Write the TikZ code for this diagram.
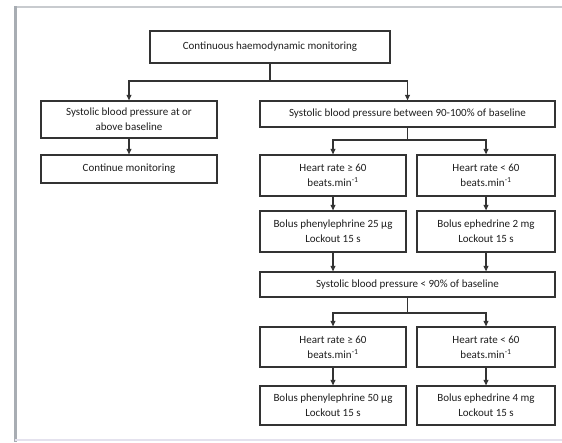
\documentclass[tikz,border=0pt]{standalone}
\usepackage{fontspec}
\setmainfont{Carlito}
\usetikzlibrary{arrows.meta}
\definecolor{boxline}{HTML}{333333}
\definecolor{txt}{HTML}{1E1E1E}
\definecolor{framel}{HTML}{A8ADB3}
\definecolor{framet}{HTML}{C8CBCF}
\definecolor{frameb}{HTML}{E4E2EE}
\begin{document}
\begin{tikzpicture}[x=1pt,y=-1pt,
  fbox/.style={draw=boxline, line width=1.3pt, fill=white, text=txt,
    inner sep=0pt, align=center, font=\fontsize{11}{15}\selectfont},
  arr/.style={draw=boxline, line width=1.1pt, -{Triangle[length=5.5pt,width=5pt]}},
  ln/.style={draw=boxline, line width=1.1pt}
]
\useasboundingbox (0,0) rectangle (562,442);
\fill[white] (0,0) rectangle (562,442);
% frame
\draw[framet, line width=2pt] (15,7) -- (562,7);
\draw[framel, line width=3pt] (15,6) -- (15,442);
\draw[frameb, line width=2pt] (15,440) -- (562,440);

\node[fbox, minimum width=240pt, minimum height=32pt] (top) at (270,47) {Continuous haemodynamic monitoring};
\node[fbox, minimum width=176pt, minimum height=37pt] (sbpa) at (129,119.5) {Systolic blood pressure at or\\above baseline};
\node[fbox, minimum width=176pt, minimum height=28pt] (cont) at (129,169) {Continue monitoring};
\node[fbox, minimum width=295pt, minimum height=26pt] (sbpb) at (407.5,114) {Systolic blood pressure between 90-100\% of baseline};
\node[fbox, minimum width=146pt, minimum height=41pt] (hra) at (333,175.5) {Heart rate ≥ 60\\beats.min\textsuperscript{-1}};
\node[fbox, minimum width=138pt, minimum height=41pt] (hrb) at (486,175.5) {Heart rate < 60\\beats.min\textsuperscript{-1}};
\node[fbox, minimum width=146pt, minimum height=41pt] (bola) at (333,231.5) {Bolus phenylephrine 25 µg\\Lockout 15 s};
\node[fbox, minimum width=138pt, minimum height=41pt] (bolb) at (486,231.5) {Bolus ephedrine 2 mg\\Lockout 15 s};
\node[fbox, minimum width=295pt, minimum height=25pt] (sbpc) at (407.5,284.5) {Systolic blood pressure < 90\% of baseline};
\node[fbox, minimum width=146pt, minimum height=40pt] (hrc) at (333,347) {Heart rate ≥ 60\\beats.min\textsuperscript{-1}};
\node[fbox, minimum width=138pt, minimum height=40pt] (hrd) at (486,347) {Heart rate < 60\\beats.min\textsuperscript{-1}};
\node[fbox, minimum width=146pt, minimum height=39pt] (bolc) at (333,405.5) {Bolus phenylephrine 50 µg\\Lockout 15 s};
\node[fbox, minimum width=138pt, minimum height=39pt] (bold) at (486,405.5) {Bolus ephedrine 4 mg\\Lockout 15 s};

\coordinate (j1) at (270,81);
\coordinate (j2) at (407.5,140);
\coordinate (j3) at (407.5,313);

\draw[ln] (top.south) -- (j1);
\draw[arr] (j1) -| (sbpa.north);
\draw[arr] (j1) -| (sbpb.north);
\draw[arr] (sbpa.south) -- (cont.north);

\draw[ln] (sbpb.south) -- (j2);
\draw[arr] (j2) -| (hra.north);
\draw[arr] (j2) -| (hrb.north);
\draw[arr] (hra.south) -- (bola.north);
\draw[arr] (hrb.south) -- (bolb.north);
\draw[arr] (bola.south) -- (bola.south |- sbpc.north);
\draw[arr] (bolb.south) -- (bolb.south |- sbpc.north);

\draw[ln] (sbpc.south) -- (j3);
\draw[arr] (j3) -| (hrc.north);
\draw[arr] (j3) -| (hrd.north);
\draw[arr] (hrc.south) -- (bolc.north);
\draw[arr] (hrd.south) -- (bold.north);
\end{tikzpicture}
\end{document}
